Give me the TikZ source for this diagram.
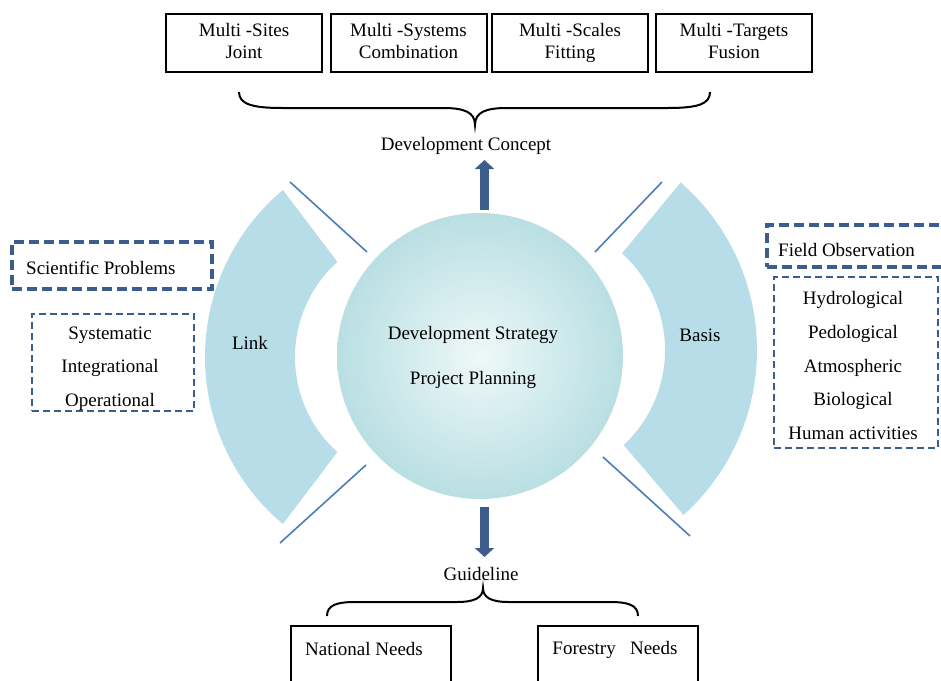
\documentclass[tikz,border=0pt]{standalone}
\usepackage{fontspec}
\setmainfont{Liberation Serif}
\usetikzlibrary{arrows.meta}

\definecolor{bandblue}{HTML}{B7DEE8}
\definecolor{coreedge}{HTML}{B9DFE3}
\definecolor{corecentre}{HTML}{EEF8F8}
\definecolor{framedark}{HTML}{3B5E8C}
\definecolor{arrowdark}{HTML}{3B5E8C}
\definecolor{ruleblue}{HTML}{4A7EBB}

\begin{document}
\begin{tikzpicture}[x=1pt,y=-1pt,
  lbl/.style={font=\fontsize{19}{22}\selectfont, inner sep=0pt},
  topbox/.style={draw=black, line width=2pt, minimum width=156pt, minimum height=58pt,
    align=center, font=\fontsize{19}{22}\selectfont, inner sep=0pt},
  needbox/.style={draw=black, line width=2pt, minimum width=160pt, minimum height=90pt,
    anchor=north, inner sep=0pt},
  bigdash/.style={draw=framedark, line width=3.8pt, dash pattern=on 10pt off 5pt,
    inner sep=0pt},
  smalldash/.style={draw=framedark, line width=2.6pt, dash pattern=on 7pt off 4pt,
    inner sep=0pt},
  brace/.style={draw=black, line width=2pt},
  rule/.style={draw=ruleblue, line width=1.6pt},
  fatarrow/.style={draw=arrowdark, line width=9pt,
    -{Triangle[width=19pt,length=9pt]}},
]
\useasboundingbox (0,0) rectangle (941,680);
\clip (0,0) rectangle (941,680);

% side bands
\fill[bandblue] ([shift={(-130:218)}]423,357)
  arc[start angle=-130, end angle=-230, radius=218]
  -- ([shift={(-228:128)}]423,357)
  arc[start angle=-228, end angle=-132, radius=128] -- cycle;
\fill[bandblue] ([shift={(-49:222)}]535,350)
  arc[start angle=-49, end angle=48, radius=222]
  -- ([shift={(47:130)}]535,350)
  arc[start angle=47, end angle=-48, radius=130] -- cycle;

% central disc
\node[circle, minimum size=286pt, inner sep=0pt, inner color=corecentre,
  outer color=coreedge] (core) at (480,356) {};
\node[lbl, align=center, font=\fontsize{19}{45}\selectfont] (strategy) at (473,357.5)
  {Development Strategy\\Project Planning};

\node[lbl] (link) at (250,343) {Link};
\node[lbl] (basis) at (700,335) {Basis};

% thin rules beside the disc
\coordinate (la1) at (290,182); \coordinate (la2) at (367,252);
\coordinate (lb1) at (366,465); \coordinate (lb2) at (280,543);
\coordinate (ra1) at (662,182); \coordinate (ra2) at (595,252);
\coordinate (rb1) at (603,457); \coordinate (rb2) at (690,536);
\draw[rule] (la1) -- (la2);
\draw[rule] (lb1) -- (lb2);
\draw[rule] (ra1) -- (ra2);
\draw[rule] (rb1) -- (rb2);

% top row
\node[topbox] (sites) at (244,43) {\strut Multi -Sites\\Joint\strut};
\node[topbox] (systems) at (408.5,43) {\strut Multi -Systems\\Combination\strut};
\node[topbox] (scales) at (570,43) {\strut Multi -Scales\\Fitting\strut};
\node[topbox] (targets) at (734,43) {\strut Multi -Targets\\Fusion\strut};

\draw[brace] (239,92) .. controls (239,104) and (252,108) .. (282,108)
  -- (443,108) .. controls (464,108) and (475,112) .. (475,125)
  .. controls (475,112) and (486,108) .. (507,108)
  -- (668,108) .. controls (698,108) and (710,104) .. (710,92);

\node[lbl] (concept) at (466,146) {Development Concept};
\coordinate (upbase) at (484.5,210);
\coordinate (uptip) at (484.5,160);
\draw[fatarrow] (upbase) -- (uptip);

% bottom
\coordinate (downbase) at (484.5,507);
\coordinate (downtip) at (484.5,557);
\draw[fatarrow] (downbase) -- (downtip);
\node[lbl] (guide) at (481,574) {Guideline};

\draw[brace] (327,616) .. controls (327,605) and (337,602) .. (355,602)
  -- (457,602) .. controls (474,602) and (483,598) .. (483,588)
  .. controls (483,598) and (492,602) .. (509,602)
  -- (610,602) .. controls (628,602) and (638,605) .. (638,616);

\node[needbox] (national) at (371,625) {};
\node[needbox] (forestry) at (618,625) {};
\node[lbl] (nationaltext) at (364,649) {National Needs};
\node[lbl] (forestrytext) at (615,650) {Forestry\ \ \ Needs};

% left dashed frames
\node[bigdash, minimum width=200pt, minimum height=47pt] (sciframe) at (112,265.5) {};
\node[lbl, anchor=west] (sci) at (26,268) {Scientific Problems};
\node[smalldash, minimum width=162pt, minimum height=97pt] (linkframe) at (113,362.5) {};
\node[lbl, align=center, font=\fontsize{19}{33.5}\selectfont] (linklist) at (110,368.5)
  {Systematic\\Integrational\\Operational};

% right dashed frames
\node[bigdash, minimum width=200pt, minimum height=42pt, anchor=west] (fieldframe) at (765,246) {};
\node[lbl, anchor=west] (field) at (778,250) {Field Observation};
\node[smalldash, minimum width=164pt, minimum height=171pt] (basisframe) at (856,362.5) {};
\node[lbl, align=center, font=\fontsize{19}{33.75}\selectfont] (basislist) at (853,365.5)
  {Hydrological\\Pedological\\Atmospheric\\Biological\\Human activities};

\end{tikzpicture}
\end{document}
